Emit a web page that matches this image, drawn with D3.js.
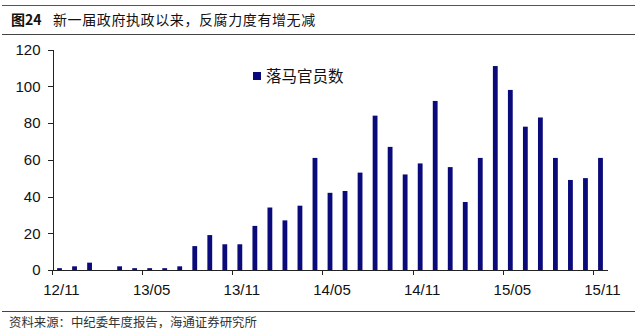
<!DOCTYPE html>
<html lang="zh">
<head>
<meta charset="UTF-8">
<title>落马官员数</title>
<script src="https://d3js.org/d3.v7.min.js"></script>
<style>
  html, body { margin: 0; padding: 0; background: #fff; }
  svg { display: block; }
  .axis path, .axis line { stroke: #222; shape-rendering: crispEdges; }
  .axis text { font-family: "Liberation Sans", Arial, sans-serif; font-size: 15px; fill: #111; }
</style>
</head>
<body>
<div id="chart"></div>
<script>
// monthly categories 12/11 .. 15/11
var months = ["12/11","12/12","13/01","13/02","13/03","13/04","13/05","13/06","13/07","13/08","13/09","13/10",
  "13/11","13/12","14/01","14/02","14/03","14/04","14/05","14/06","14/07","14/08","14/09","14/10",
  "14/11","14/12","15/01","15/02","15/03","15/04","15/05","15/06","15/07","15/08","15/09","15/10","15/11"];
// 落马官员数
var officials = [1,2,4,0,2,1,1,1,2,13,19,14,
  14,24,34,27,35,61,42,43,53,84,67,52,
  58,92,56,37,61,111,98,78,83,61,49,50,61];
var yTicks = [0,20,40,60,80,100,120];
var labelMonths = ["12/11","13/05","13/11","14/05","14/11","15/05","15/11"];

var width = 640, height = 332;
var svg = d3.select("#chart").append("svg")
  .attr("width", width)
  .attr("height", height);

// header / footer rules
svg.append("line").attr("x1", 2).attr("x2", 635).attr("y1", 5.5).attr("y2", 5.5)
  .attr("stroke", "#555").attr("stroke-width", 1.2);
svg.append("line").attr("x1", 2).attr("x2", 635).attr("y1", 34.5).attr("y2", 34.5)
  .attr("stroke", "#444").attr("stroke-width", 1);
svg.append("line").attr("x1", 2).attr("x2", 635).attr("y1", 311.5).attr("y2", 311.5)
  .attr("stroke", "#444").attr("stroke-width", 1);

var title = svg.append("text")
  .attr("x", 11).attr("y", 25)
  .style("font-family", "'Noto Sans CJK SC', sans-serif")
  .style("font-size", "14px")
  .style("fill", "#111");
title.append("tspan").style("font-weight", "bold").text("图24");
title.append("tspan").attr("x", 53).style("letter-spacing", "0.6px").text("新一届政府执政以来，反腐力度有增无减");

svg.append("text")
  .attr("x", 9).attr("y", 327)
  .style("font-family", "'Noto Sans CJK SC', sans-serif")
  .style("font-size", "12.4px")
  .style("fill", "#333")
  .text("资料来源：中纪委年度报告，海通证券研究所");

// scales
var x = d3.scaleBand()
  .domain(months)
  .range([52, 608])
  .paddingInner(0.68)
  .paddingOuter(0.34);

var y = d3.scaleLinear()
  .domain([0, 120])
  .range([270, 49.5]);

// bars
svg.selectAll("rect.bar")
  .data(officials)
  .enter()
  .append("rect")
  .attr("class", "bar")
  .attr("x", function (d, i) { return x(months[i]); })
  .attr("width", x.bandwidth())
  .attr("y", function (d) { return y(d); })
  .attr("height", function (d) { return y(0) - y(d); })
  .attr("fill", "#0a0a7a");

// y axis
svg.append("g")
  .attr("class", "axis")
  .attr("transform", "translate(52.5,0)")
  .call(d3.axisLeft(y).tickValues(yTicks).tickSize(5).tickSizeOuter(0).tickPadding(7));

// x axis: ticks between categories, every 6 months
var xAxis = svg.append("g").attr("class", "axis");
xAxis.append("line")
  .attr("x1", 52).attr("x2", 608)
  .attr("y1", 270.5).attr("y2", 270.5);
var gap = (x.step() - x.bandwidth()) / 2;
xAxis.selectAll("line.tick")
  .data(labelMonths)
  .enter()
  .append("line")
  .attr("class", "tick")
  .attr("x1", function (d) { return Math.round(x(d) - gap) + 0.5; })
  .attr("x2", function (d) { return Math.round(x(d) - gap) + 0.5; })
  .attr("y1", 270).attr("y2", 275);
xAxis.selectAll("text")
  .data(labelMonths)
  .enter()
  .append("text")
  .attr("x", function (d) { return x(d) + x.bandwidth() / 2 + 2; })
  .attr("y", 295)
  .attr("text-anchor", "middle")
  .text(function (d) { return d; });

// legend
svg.append("rect")
  .attr("x", 253).attr("y", 72)
  .attr("width", 8).attr("height", 8)
  .attr("fill", "#0a0a7a");
svg.append("text")
  .attr("x", 266).attr("y", 82)
  .style("font-family", "'Noto Sans CJK SC', sans-serif")
  .style("font-size", "15.5px")
  .style("fill", "#111")
  .text("落马官员数");
</script>
</body>
</html>
